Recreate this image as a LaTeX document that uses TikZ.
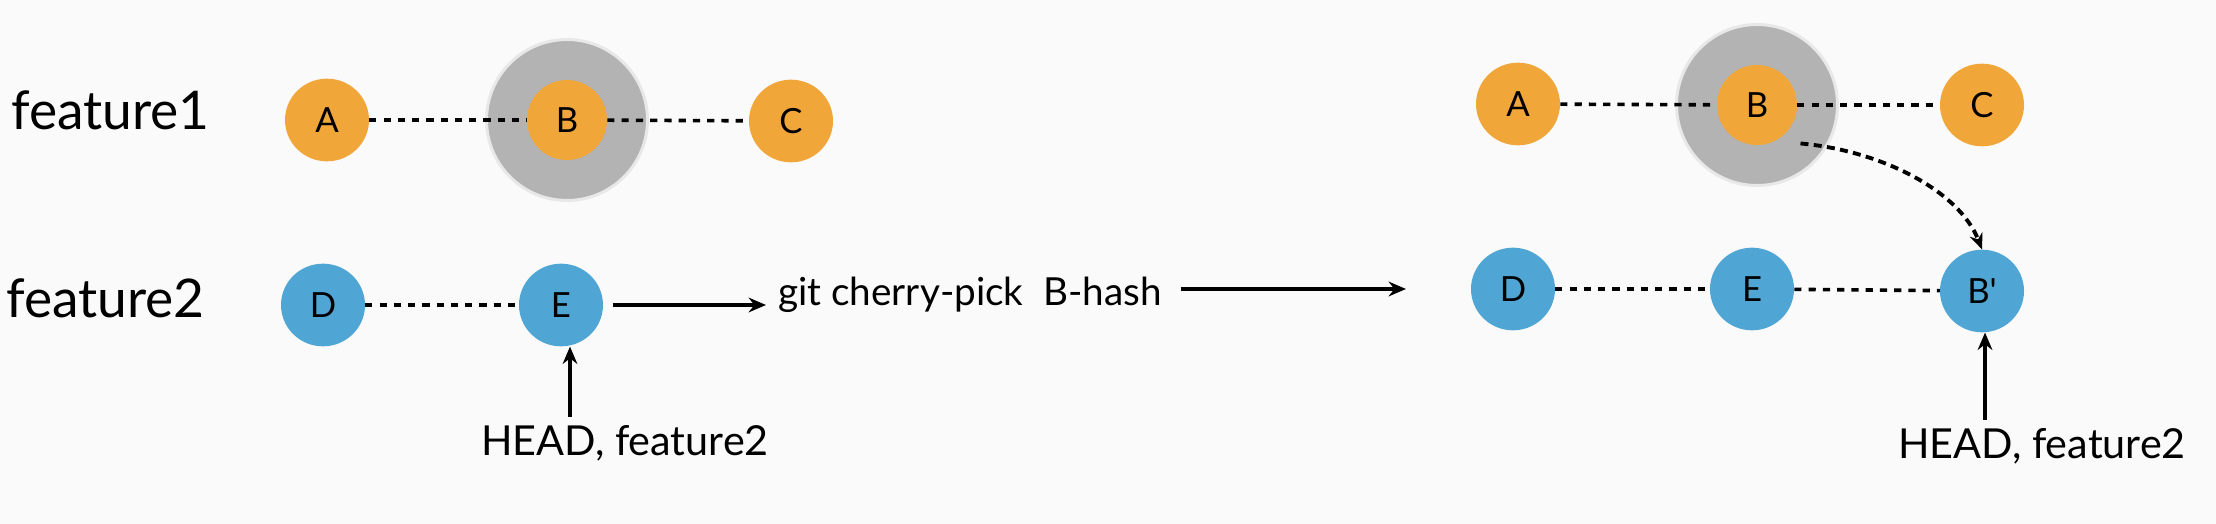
\documentclass[tikz,border=0pt]{standalone}
\usepackage{fontspec}
\newfontfamily\latofont{Lato}
\usetikzlibrary{shapes.geometric,arrows.meta}
\definecolor{bgc}{RGB}{250,250,250}
\definecolor{orng}{RGB}{241,166,58}
\definecolor{blu}{RGB}{79,165,211}
\definecolor{ringfill}{RGB}{179,179,179}
\definecolor{ringdraw}{RGB}{232,232,232}
\begin{document}
\begin{tikzpicture}[x=0.75pt,y=-0.75pt,
  commit/.style={ellipse, minimum width=63pt, minimum height=62pt, inner sep=0pt,
    font={\latofont\fontsize{26}{30}\selectfont}},
  orangec/.style={commit, fill=orng},
  bluec/.style={commit, fill=blu},
  ringnode/.style={circle, minimum size=120.75pt, inner sep=0pt, fill=ringfill, draw=ringdraw, line width=2.25pt},
  link/.style={line width=2.7pt, dash pattern=on 5.4pt off 5.3pt},
  curvelink/.style={line width=2.9pt, dash pattern=on 6pt off 4pt, -{Stealth[length=12pt,width=10pt]}},
  arrowline/.style={line width=2.9pt, -{Stealth[length=13pt,width=11pt]}},
  lbl/.style={font={\latofont\fontsize{29}{34}\selectfont}, inner sep=0pt},
  headlbl/.style={font={\latofont\fontsize{31}{36}\selectfont}, inner sep=0pt},
  branch/.style={font={\latofont\fontsize{40}{46}\selectfont}, inner sep=0pt}]
\fill[bgc] (0,0) rectangle (2216,524);
\useasboundingbox (0,0) rectangle (2216,524);

% left state
\node[branch, anchor=base west] (f1) at (11,130) {feature1};
\node[branch, anchor=base west] (f2) at (6,317) {feature2};
\node[ringnode] (ring1) at (567,120) {};
\node[orangec] (A) at (327,120) {A};
\node[orangec, minimum width=60pt, minimum height=60pt] (B) at (567,120) {B};
\node[orangec] (C) at (791,121) {\raisebox{-9pt}{C}};
\node[bluec] (D) at (323,305) {D};
\node[bluec] (E) at (561,305) {E};
\draw[link] (A) -- (B);
\draw[link] (B) -- (C);
\draw[link] (D) -- (E);
\node[headlbl, anchor=base] (head1) at (625,455) {HEAD, feature2};
\draw[arrowline, shorten <=6pt] ([xshift=6.75pt]head1.north -| E.south) -- ([xshift=6.75pt]E.south);

% command
\node[lbl, anchor=base west] (cmd) at (778,305) {git cherry-pick\ \ B-hash};
\draw[arrowline, shorten <=7.5pt, shorten >=9pt] (E) -- (cmd.west |- E);
\coordinate (outend) at (1406,289);
\draw[arrowline] ([xshift=14pt]cmd.east |- outend) -- (outend);

% right state
\node[ringnode] (ring2) at (1757,105) {};
\node[orangec] (A2) at (1518,104) {A};
\node[orangec, minimum width=60pt, minimum height=60pt] (B2) at (1757,105) {B};
\node[orangec] (C2) at (1982,105) {\raisebox{-7pt}{C}};
\node[bluec] (D2) at (1513,289) {D};
\node[bluec] (E2) at (1752,289) {E};
\node[bluec] (Bp) at (1982,291) {B'};
\draw[link] (A2) -- (B2);
\draw[link] (B2) -- (C2);
\draw[link] (D2) -- (E2);
\draw[link] (E2) -- (Bp);
\draw[curvelink] ([shift={(15,10)}]B2.south east)
  .. controls +(80,7) and +(-23,-59) .. (Bp.north);
\node[headlbl, anchor=base] (head2) at (2042,458) {HEAD, feature2};
\draw[arrowline, shorten <=6pt] ([xshift=2.25pt]head2.north -| Bp.south) -- ([xshift=2.25pt]Bp.south);
\end{tikzpicture}
\end{document}
